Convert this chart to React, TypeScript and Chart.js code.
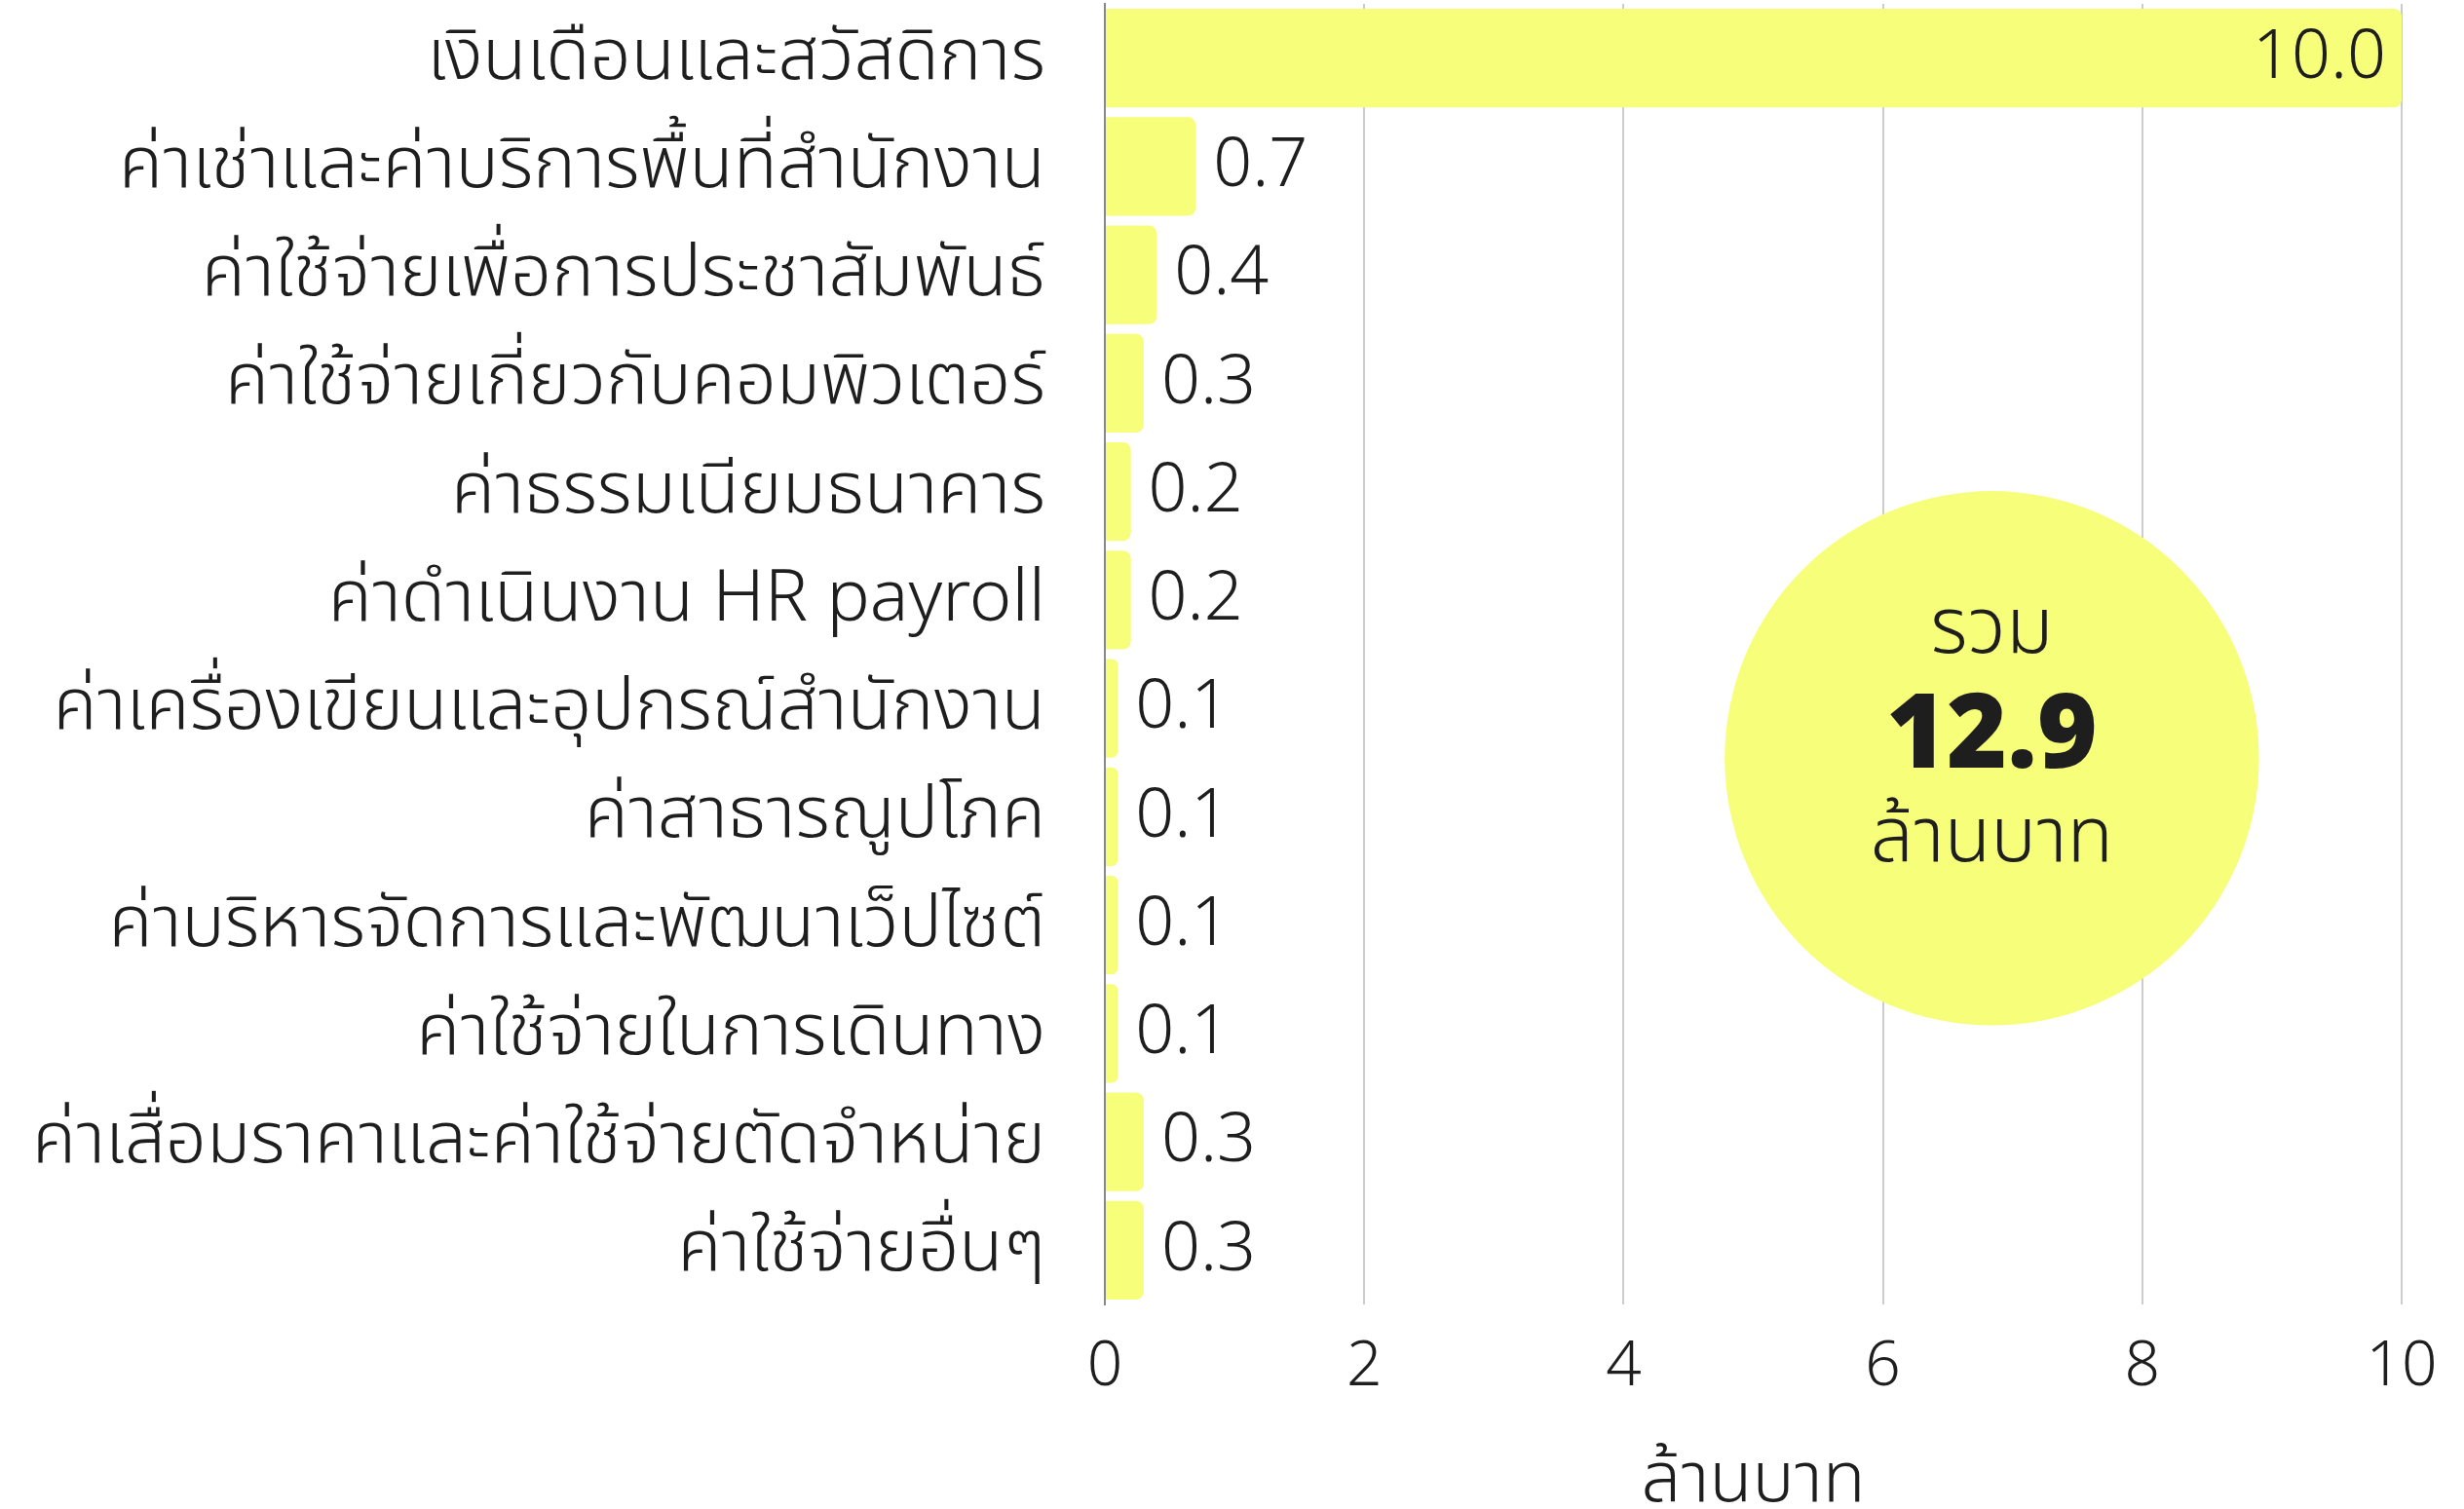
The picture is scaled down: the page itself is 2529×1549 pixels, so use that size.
import React, { useEffect, useRef } from "react";
import { Chart, registerables } from "chart.js";

Chart.register(...registerables);

const categories: string[] = [
  "เงินเดือนและสวัสดิการ",
  "ค่าเช่าและค่าบริการพื้นที่สำนักงาน",
  "ค่าใช้จ่ายเพื่อการประชาสัมพันธ์",
  "ค่าใช้จ่ายเกี่ยวกับคอมพิวเตอร์",
  "ค่าธรรมเนียมธนาคาร",
  "ค่าดำเนินงาน HR payroll",
  "ค่าเครื่องเขียนและอุปกรณ์สำนักงาน",
  "ค่าสาธารณูปโภค",
  "ค่าบริหารจัดการและพัฒนาเว็ปไซต์",
  "ค่าใช้จ่ายในการเดินทาง",
  "ค่าเสื่อมราคาและค่าใช้จ่ายตัดจำหน่าย",
  "ค่าใช้จ่ายอื่นๆ",
];
const values: number[] = [10.0, 0.7, 0.4, 0.3, 0.2, 0.2, 0.1, 0.1, 0.1, 0.1, 0.3, 0.3];
const xTicks: number[] = [0, 2, 4, 6, 8, 10];
const axisTitle = "ล้านบาท";
const totalLines: string[] = ["รวม", "12.9", "ล้านบาท"];
// circle anchor in data units (x value, category index) and radius in x units
const circleCenterX = 6.84;
const circleCenterIndex = 6.46;
const circleRadiusUnits = 2.06;

const FONT = "'Noto Sans Thai', 'Noto Sans', sans-serif";
const BAR_COLOR = "#F6FE7A";
const TEXT_COLOR = "#1e1e1e";

const W = 2529;
const H = 1549;

export default function App() {
  const ref = useRef<HTMLCanvasElement | null>(null);
  useEffect(() => {
    if (!ref.current) return;
    const labelPlugin = {
      id: "valueLabels",
      afterDatasetsDraw(chart: any) {
        const ctx = chart.ctx;
        const meta = chart.getDatasetMeta(0);
        const ys = chart.scales.y;
        ctx.save();
        ctx.fillStyle = TEXT_COLOR;
        ctx.textBaseline = "middle";
        // category labels
        ctx.font = `300 74px ${FONT}`;
        ctx.textAlign = "right";
        categories.forEach((c, i) => {
          ctx.fillText(c, ys.right - 61, ys.getPixelForTick(i) + 6);
        });
        // value labels
        ctx.font = `300 70px ${FONT}`;
        meta.data.forEach((el: any, i: number) => {
          const v = values[i];
          const txt = v.toFixed(1);
          if (v >= 5) {
            ctx.textAlign = "right";
            ctx.fillText(txt, el.x - 16, el.y + 6);
          } else {
            ctx.textAlign = "left";
            ctx.fillText(txt, el.x + 18, el.y + 6);
          }
        });
        ctx.restore();
      },
    };
    const circlePlugin = {
      id: "totalCircle",
      afterDatasetsDraw(chart: any) {
        const ctx = chart.ctx;
        const xs = chart.scales.x;
        const ys = chart.scales.y;
        const cx = xs.getPixelForValue(circleCenterX);
        const cy = ys.getPixelForValue(circleCenterIndex);
        const r = xs.getPixelForValue(circleRadiusUnits) - xs.getPixelForValue(0);
        ctx.save();
        ctx.beginPath();
        ctx.arc(cx, cy, r, 0, Math.PI * 2);
        ctx.fillStyle = BAR_COLOR;
        ctx.fill();
        ctx.fillStyle = TEXT_COLOR;
        ctx.textAlign = "center";
        ctx.textBaseline = "middle";
        ctx.font = `300 80px ${FONT}`;
        ctx.fillText(totalLines[0], cx, cy - 124);
        ctx.font = `900 106px ${FONT}`;
        ctx.fillText(totalLines[1], cx, cy - 12);
        ctx.font = `300 78px ${FONT}`;
        ctx.fillText(totalLines[2], cx, cy + 90);
        ctx.restore();
      },
    };
    const chart = new Chart(ref.current, {
      type: "bar",
      data: {
        labels: categories,
        datasets: [
          {
            data: values,
            backgroundColor: BAR_COLOR,
            borderRadius: 8,
            borderSkipped: "start",
            barPercentage: 0.91,
            categoryPercentage: 1,
          },
        ],
      },
      options: {
        indexAxis: "y",
        responsive: false,
        animation: false,
        devicePixelRatio: 1,
        layout: { padding: { top: 4, right: 64, left: 0, bottom: 0 } },
        plugins: {
          legend: { display: false },
          tooltip: { enabled: false },
        },
        scales: {
          x: {
            type: "linear",
            min: 0,
            max: 10,
            afterBuildTicks(scale: any) {
              scale.ticks = xTicks.map((v) => ({ value: v }));
            },
            afterFit(scale: any) {
              scale.height = 210;
              scale.paddingLeft = 0;
              scale.paddingRight = 0;
            },
            grid: { color: "#cccccc", lineWidth: 2, drawTicks: false },
            border: { display: false },
            ticks: {
              color: TEXT_COLOR,
              font: { family: FONT, size: 64, weight: "300" },
              padding: 32,
            },
            title: {
              display: true,
              text: axisTitle,
              color: TEXT_COLOR,
              font: { family: FONT, size: 72, weight: "300", lineHeight: 0.95 },
              padding: { top: 36, bottom: -12 },
            },
          },
          y: {
            afterFit(scale: any) {
              scale.width = 1134;
              scale.paddingTop = 0;
              scale.paddingBottom = 0;
            },
            grid: { display: false },
            border: { display: true, color: "#888888", width: 2 },
            ticks: { display: false },
          },
        },
      },
      plugins: [labelPlugin, circlePlugin],
    });
    return () => chart.destroy();
  }, []);
  return (
    <div style={{ position: "absolute", left: 0, top: 0, width: W, height: H, background: "#fff" }}>
      <canvas ref={ref} width={W} height={H} style={{ width: W, height: H, display: "block" }} />
    </div>
  );
}
